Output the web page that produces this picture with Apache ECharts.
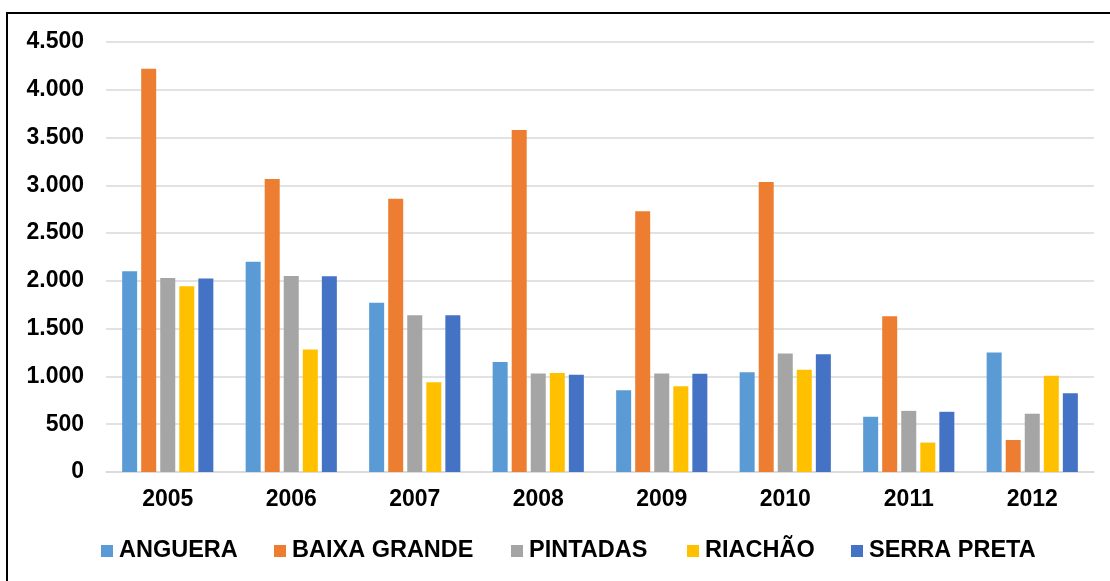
<!DOCTYPE html>
<html>
<head>
<meta charset="utf-8">
<script src="https://cdn.jsdelivr.net/npm/echarts@6/dist/echarts.min.js"></script>
<style>
html,body{margin:0;padding:0;background:#fff;}
#chart{width:1110px;height:581px;}
</style>
</head>
<body>
<div id="chart"></div>
<script>
var years = ['2005','2006','2007','2008','2009','2010','2011','2012'];
var seriesNames = ['ANGUERA','BAIXA GRANDE','PINTADAS','RIACHÃO','SERRA PRETA'];
var anguera     = [2100, 2200, 1770, 1150, 855, 1045, 578, 1250];
var baixaGrande = [4220, 3065, 2860, 3580, 2730, 3035, 1630, 335];
var pintadas    = [2030, 2050, 1640, 1030, 1030, 1240, 640, 610];
var riachao     = [1945, 1283, 940, 1035, 898, 1070, 308, 1006];
var serraPreta  = [2025, 2048, 1640, 1018, 1028, 1232, 630, 825];
var colors = ['#5B9BD5','#ED7D31','#A5A5A5','#FFC000','#4472C4'];
var yTicks = {min: 0, max: 4500, interval: 500};

var allData = [anguera, baixaGrande, pintadas, riachao, serraPreta];
var legendLefts = [101, 274, 511, 687, 851];

function fmt(v){ return String(v).replace(/\B(?=(\d{3})+(?!\d))/g, '.'); }

var chart = echarts.init(document.getElementById('chart'), null, {renderer:'canvas'});
var font = 'Liberation Sans, Arial, sans-serif';

var series = seriesNames.map(function(n, i){
  return {
    name: n,
    type: 'bar',
    data: allData[i],
    barWidth: 15,
    barGap: '27%',
    itemStyle: {color: colors[i]}
  };
});

var legends = seriesNames.map(function(n, i){
  return {
    data: [n],
    left: legendLefts[i],
    top: 539,
    itemWidth: 12,
    itemHeight: 12,
    itemGap: 0,
    icon: 'rect',
    padding: 0,
    textStyle: {fontFamily: font, fontWeight: 'bold', fontSize: 23.5, color: '#000', padding: [0,0,0,1], lineHeight: 24}
  };
});

chart.setOption({
  animation: false,
  backgroundColor: '#fff',
  color: colors,
  grid: {left: 106, right: 16, top: 42, bottom: 109, containLabel: false},
  legend: legends,
  xAxis: {
    type: 'category',
    data: years,
    axisLine: {show: true, lineStyle: {color: '#d9d9d9', width: 1.5}},
    axisTick: {show: false},
    axisLabel: {fontFamily: font, fontWeight: 'bold', fontSize: 23, color: '#000', margin: 16}
  },
  yAxis: {
    type: 'value',
    min: yTicks.min,
    max: yTicks.max,
    interval: yTicks.interval,
    axisLine: {show: false},
    axisTick: {show: false},
    splitLine: {lineStyle: {color: '#d9d9d9', width: 1.5}},
    axisLabel: {fontFamily: font, fontWeight: 'bold', fontSize: 23, color: '#000', margin: 22, formatter: fmt}
  },
  series: series,
  graphic: [{
    type: 'polyline',
    silent: true,
    shape: {points: [[7, 581], [7, 13], [1110, 13]]},
    style: {stroke: '#000', lineWidth: 2, fill: null}
  }]
});
</script>
</body>
</html>
